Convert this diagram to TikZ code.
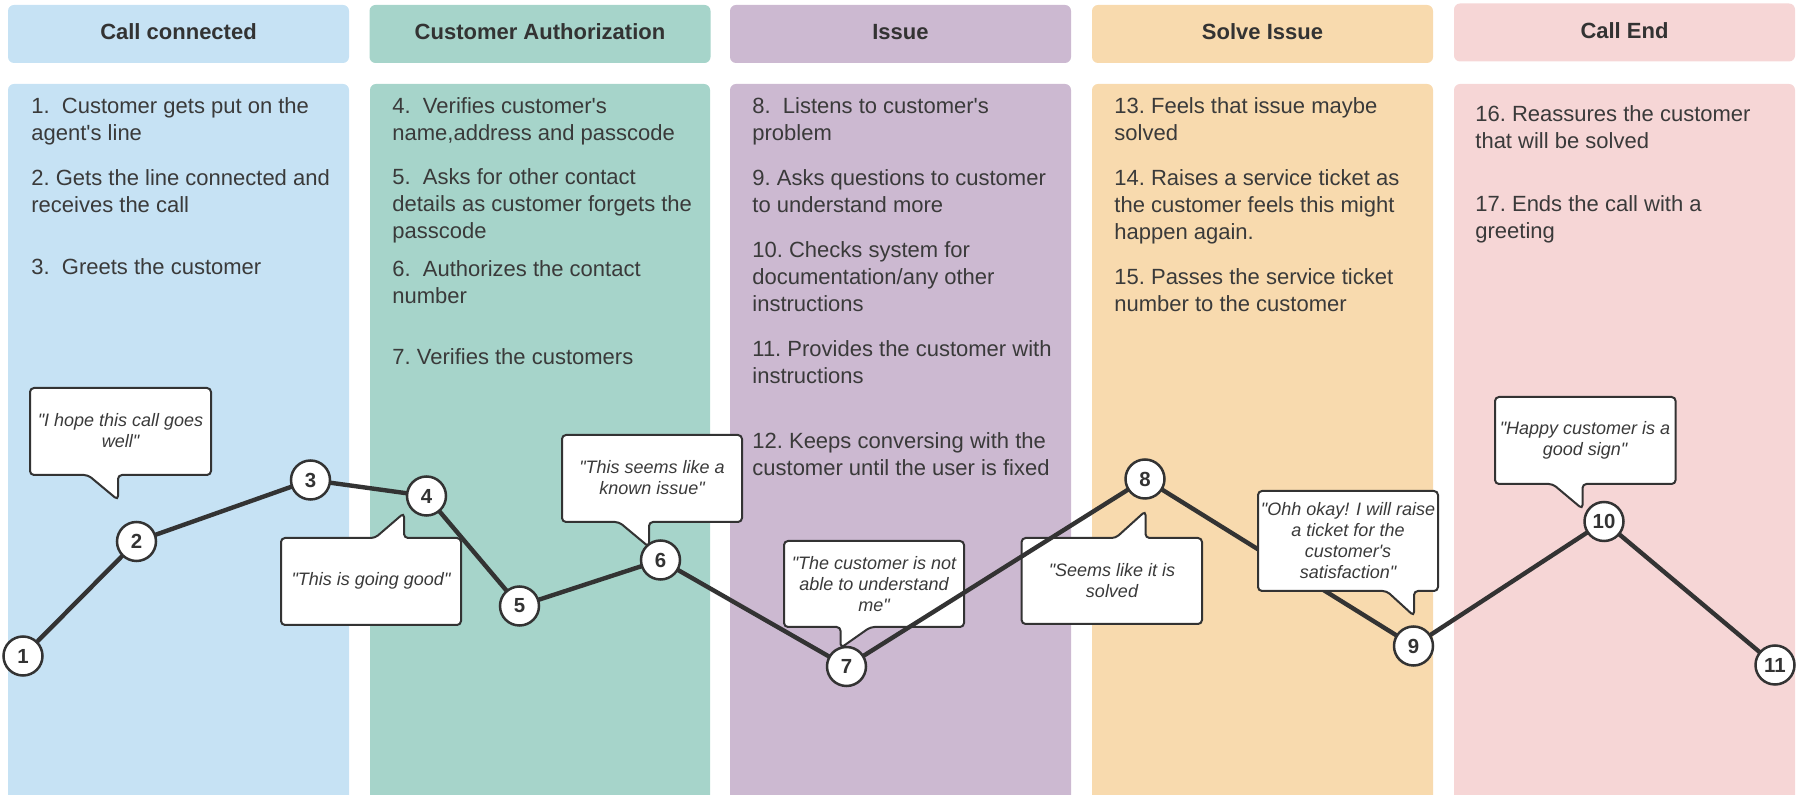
\documentclass[tikz,border=0pt]{standalone}
\usepackage{fontspec}
\setmainfont{Liberation Sans}
\pgfdeclarelayer{bg}
\pgfdeclarelayer{lines}
\pgfdeclarelayer{callouts}
\pgfsetlayers{bg,lines,callouts,main}
\definecolor{cA}{HTML}{C6E2F4}
\definecolor{cB}{HTML}{A6D4CA}
\definecolor{cC}{HTML}{CCB9D1}
\definecolor{cD}{HTML}{F8DAAE}
\definecolor{cE}{HTML}{F6D6D6}
\definecolor{ink}{HTML}{333333}
\definecolor{txt}{HTML}{3A3A3A}
\newcommand\myqd{\textquotedbl}
\newcommand\myqs{\textquotesingle}
\tikzset{
  colbox/.style={rounded corners=3pt},
  hdr/.style={rectangle, rounded corners=3pt, minimum width=170.5pt, minimum height=29pt, inner sep=0pt,
     font=\bfseries\fontsize{11pt}{13pt}\selectfont, text=ink, text height=8pt, text depth=2pt},
  item/.style={anchor=north west, align=left, inner sep=0pt, text=txt, font=\fontsize{11pt}{13.5pt}\selectfont},
  callout/.style={draw=ink, line width=1pt, fill=white, rounded corners=2pt},
  ctext/.style={align=center, inner sep=0pt, text=txt, font=\itshape\fontsize{9pt}{10.5pt}\selectfont},
  nd/.style={circle, draw=ink, line width=1.25pt, fill=white, minimum size=19.5pt, inner sep=0pt,
     font=\bfseries\fontsize{10.2pt}{12pt}\selectfont, text=ink},
  edge/.style={draw=ink, line width=2.2pt, line cap=round, line join=round}
}
\begin{document}
\begin{tikzpicture}[x=0.5pt,y=-0.5pt]
\useasboundingbox (0,0) rectangle (1806,795);
\begin{pgfonlayer}{bg}
% headers
\node[hdr, fill=cA] (h1) at (178.5,34) {Call connected};
\node[hdr, fill=cB] (h2) at (540,34) {Customer Authorization};
\node[hdr, fill=cC] (h3) at (900.5,34) {Issue};
\node[hdr, fill=cD] (h4) at (1262.5,34) {Solve Issue};
\node[hdr, fill=cE] (h5) at (1624.5,32.5) {Call End};
% column bodies
\path[colbox, fill=cA] (8,84) rectangle (349,810);
\path[colbox, fill=cB] (370,84) rectangle (710,810);
\path[colbox, fill=cC] (730,84) rectangle (1071,810);
\path[colbox, fill=cD] (1092,84) rectangle (1433,810);
\path[colbox, fill=cE] (1454,84) rectangle (1795,810);
% column texts
\node[item] (t1) at (31,94) {\strut 1.\ \ Customer gets put on the\\agent\myqs s line};
\node[item] (t2) at (31,166) {\strut 2.\ Gets the line connected and\\receives the call};
\node[item] (t3) at (31,255) {\strut 3.\ \ Greets the customer};
\node[item] (t4) at (392,94) {\strut 4.\ \ Verifies customer\myqs s\\name,address and passcode};
\node[item] (t5) at (392,165) {\strut 5.\ \ Asks for other contact\\details as customer forgets the\\passcode};
\node[item] (t6) at (392,257) {\strut 6.\ \ Authorizes the contact\\number};
\node[item] (t7) at (392,345) {\strut 7.\ Verifies the customers};
\node[item] (t8) at (752,94) {\strut 8.\ \ Listens to customer\myqs s\\problem};
\node[item] (t9) at (752,166) {\strut 9.\ Asks questions to customer\\to understand more};
\node[item] (t10) at (752,238) {\strut 10.\ Checks system for\\documentation/any other\\instructions};
\node[item] (t11) at (752,337) {\strut 11.\ Provides the customer with\\instructions};
\node[item] (t12) at (752,429) {\strut 12.\ Keeps conversing with the\\customer until the user is fixed};
\node[item] (t13) at (1114,94) {\strut 13.\ Feels that issue maybe\\solved};
\node[item] (t14) at (1114,166) {\strut 14.\ Raises a service ticket as\\the customer feels this might\\happen again.};
\node[item] (t15) at (1114,265) {\strut 15.\ Passes the service ticket\\number to the customer};
\node[item] (t16) at (1475,102) {\strut 16.\ Reassures the customer\\that will be solved};
\node[item] (t17) at (1475,192) {\strut 17.\ Ends the call with a\\greeting};
% callouts below the line
\path[callout] (784,541) -- (964,541) -- (964,627) -- (870.5,627) -- (840.6,648) -- (840.6,627) -- (784,627) -- cycle;
\node[ctext] (q4) at (874,584) {\myqd The customer is not\\able to understand\\me\myqd};
\path[callout] (1021.6,538) -- (1115.7,538) -- (1145.5,511) -- (1145.5,538) -- (1202,538) -- (1202,624) -- (1021.6,624) -- cycle;
\node[ctext] (q5) at (1112,581) {\myqd Seems like it is\\solved};
\end{pgfonlayer}
% nodes
\node[nd] (n1) at (23,656) {1};
\node[nd] (n2) at (136.5,541.5) {2};
\node[nd] (n3) at (310.5,480) {3};
\node[nd] (n4) at (426.5,496) {4};
\node[nd] (n5) at (519.5,606) {5};
\node[nd] (n6) at (660.5,560) {6};
\node[nd] (n7) at (846.5,666.5) {7};
\node[nd] (n8) at (1145,479) {8};
\node[nd] (n9) at (1413.5,646) {9};
\node[nd] (n10) at (1604,521.5) {10};
\node[nd] (n11) at (1775,665) {11};
\begin{pgfonlayer}{lines}
\draw[edge] (n1.center) -- (n2.center) -- (n3.center) -- (n4.center) -- (n5.center) -- (n6.center)
  -- (n7.center) -- (n8.center) -- (n9.center) -- (n10.center) -- (n11.center);
\end{pgfonlayer}
\begin{pgfonlayer}{callouts}
\path[callout] (30,388) -- (211,388) -- (211,475) -- (118,475) -- (118,500) -- (88,475) -- (30,475) -- cycle;
\node[ctext] (q1) at (120.5,431) {\myqd I hope this call goes\\well\myqd};
\path[callout] (281,538) -- (375,538) -- (404,513) -- (404,538) -- (461,538) -- (461,625) -- (281,625) -- cycle;
\node[ctext] (q2) at (371,581) {\myqd This is going good\myqd};
\path[callout] (562,435) -- (742,435) -- (742,522) -- (649,522) -- (649,547) -- (619,522) -- (562,522) -- cycle;
\node[ctext] (q3) at (652,478) {\myqd This seems like a\\known issue\myqd};
\path[callout] (1258,491) -- (1438,491) -- (1438,591) -- (1414,591) -- (1414,616) -- (1386.6,591) -- (1258,591) -- cycle;
\node[ctext] (q6) at (1348,541) {\myqd Ohh okay! I will raise\\a ticket for the\\customer\myqs s\\satisfaction\myqd};
\path[callout] (1495,397) -- (1675.6,397) -- (1675.6,484) -- (1582.5,484) -- (1582.5,509) -- (1552.7,484) -- (1495,484) -- cycle;
\node[ctext] (q7) at (1585,440) {\myqd Happy customer is a\\good sign\myqd};
\end{pgfonlayer}
\end{tikzpicture}
\end{document}
